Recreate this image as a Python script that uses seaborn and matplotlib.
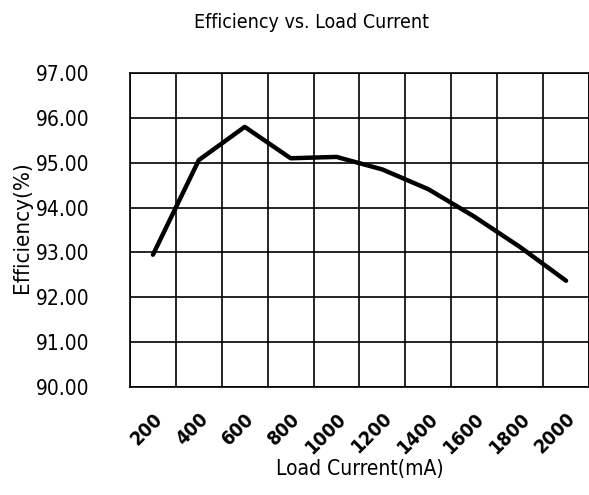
import matplotlib
matplotlib.use("Agg")
import matplotlib.pyplot as plt
import numpy as np
import pandas as pd
import seaborn as sns

# values
load_current = ['200', '400', '600', '800', '1000', '1200', '1400', '1600', '1800', '2000']
efficiency = [92.95, 95.06, 95.80, 95.10, 95.13, 94.85, 94.41, 93.80, 93.12, 92.37]
y_ticks = [90, 91, 92, 93, 94, 95, 96, 97]

df = pd.DataFrame({'Load Current(mA)': load_current, 'Efficiency(%)': efficiency})

sns.set_theme(style='white')
plt.rcParams['font.family'] = ['DejaVu Sans']
plt.rcParams['font.stretch'] = 'condensed'
plt.rcParams['text.color'] = 'black'
plt.rcParams['xtick.color'] = 'black'
plt.rcParams['ytick.color'] = 'black'

fig = plt.figure(figsize=(5.89, 4.95), dpi=100)
ax = fig.add_axes([0.2207, 0.218, 0.7793, 0.6345])

sns.lineplot(data=df, x='Load Current(mA)', y='Efficiency(%)', ax=ax,
             color='black', linewidth=3.2, sort=False)

ax.set_xlim(-0.5, len(load_current) - 0.5)
ax.set_ylim(90, 97)
ax.set_yticks(y_ticks)
ax.set_yticklabels([f'{v:.2f}' for v in y_ticks], fontsize=15)
ax.set_xticks(range(len(load_current)))
ax.set_xticklabels(load_current, rotation=45, ha='right', rotation_mode='anchor',
                   fontsize=14, fontweight='bold')
ax.set_xticks(np.arange(-0.5, len(load_current), 1), minor=True)

ax.grid(False)
ax.grid(True, which='minor', axis='x', color='black', linewidth=1.2)
ax.grid(True, which='major', axis='y', color='black', linewidth=1.2)
ax.tick_params(axis='both', which='both', length=0)
ax.tick_params(axis='y', pad=29)
ax.tick_params(axis='x', pad=16)
for s in ax.spines.values():
    s.set_color('black')
    s.set_linewidth(1.2)

ax.set_xlabel('Load Current(mA)', fontsize=15, labelpad=1, color='black')
ax.set_ylabel('')
fig.text(22 / 589, 1 - 227 / 495, 'Efficiency(%)', rotation=90, ha='center', va='center', fontsize=16)
fig.text(311 / 589, 1 - 22 / 495, 'Efficiency vs. Load Current', ha='center', va='center', fontsize=14)

fig.savefig('out.png', dpi=100, facecolor='white')
